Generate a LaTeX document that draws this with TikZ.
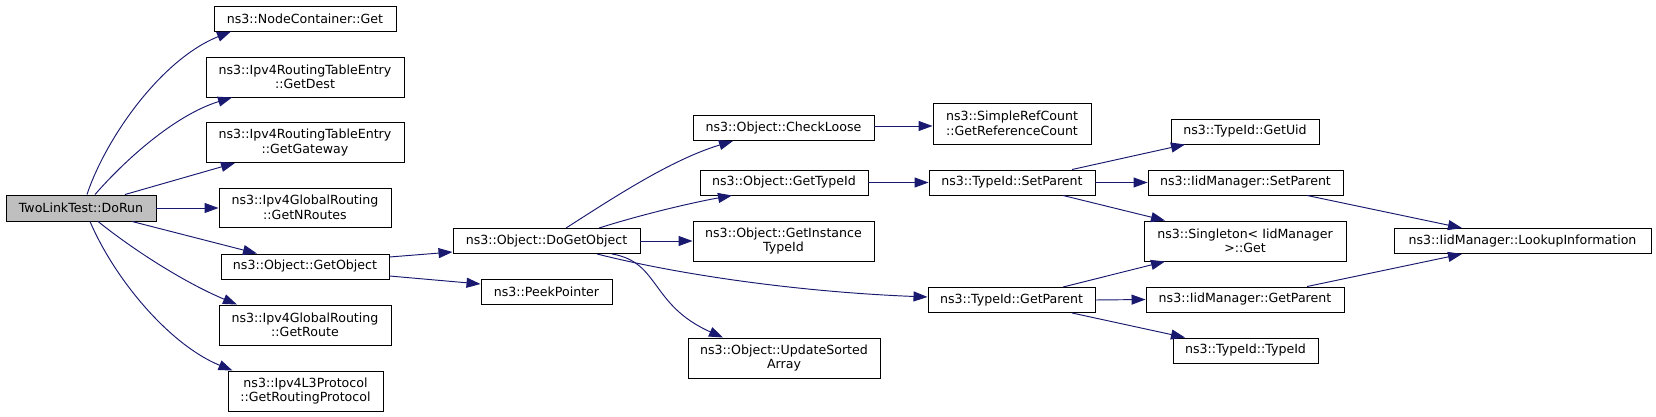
\documentclass[tikz,border=0pt]{standalone}
\usepackage{fontspec}
\setmainfont{DejaVu Sans}
\usetikzlibrary{arrows.meta}
\definecolor{edgecol}{HTML}{191970}
\definecolor{rootfill}{HTML}{BFBFBF}
\tikzset{
  box/.style={draw=black, fill=white, line width=0.95pt, inner sep=0pt, align=center,
    font=\fontsize{12.6}{14.4}\selectfont},
  rootbox/.style={box, fill=rootfill},
  edge/.style={draw=edgecol, line width=0.95pt, -{Triangle[length=14pt,width=10pt]}},
}
\begin{document}
\begin{tikzpicture}[x=1pt,y=-1pt]
\useasboundingbox (0,0) rectangle (1656,417);
% nodes
\node[rootbox, minimum width=150pt, minimum height=26pt] (dorun) at (81,208) {TwoLinkTest::DoRun};
\node[box, minimum width=182pt, minimum height=25pt] (ncget) at (305,18.5) {ns3::NodeContainer::Get};
\node[box, minimum width=198pt, minimum height=40pt] (gdest) at (305,77) {ns3::Ipv4RoutingTableEntry\\::GetDest};
\node[box, minimum width=198pt, minimum height=40pt] (ggate) at (305,142.5) {ns3::Ipv4RoutingTableEntry\\::GetGateway};
\node[box, minimum width=172pt, minimum height=39pt] (gnr) at (305,207.5) {ns3::Ipv4GlobalRouting\\::GetNRoutes};
\node[box, minimum width=168pt, minimum height=25pt] (gobj) at (305,266.5) {ns3::Object::GetObject};
\node[box, minimum width=172pt, minimum height=40pt] (groute) at (305,325) {ns3::Ipv4GlobalRouting\\::GetRoute};
\node[box, minimum width=155pt, minimum height=40pt] (grp) at (305.5,391) {ns3::Ipv4L3Protocol\\::GetRoutingProtocol};
\node[box, minimum width=187pt, minimum height=25pt] (dgo) at (546.5,241) {ns3::Object::DoGetObject};
\node[box, minimum width=131pt, minimum height=25pt] (peek) at (546.5,291.5) {ns3::PeekPointer};
\node[box, minimum width=181pt, minimum height=25pt] (check) at (783.5,128) {ns3::Object::CheckLoose};
\node[box, minimum width=168pt, minimum height=25pt] (gtid) at (784,182.5) {ns3::Object::GetTypeId};
\node[box, minimum width=181pt, minimum height=40pt] (gitid) at (783.5,241) {ns3::Object::GetInstance\\TypeId};
\node[box, minimum width=192pt, minimum height=40pt] (usa) at (784,358) {ns3::Object::UpdateSorted\\Array};
\node[box, minimum width=158pt, minimum height=41pt] (refc) at (1012,123.5) {ns3::SimpleRefCount\\::GetReferenceCount};
\node[box, minimum width=166pt, minimum height=25pt] (tsp) at (1012,182.5) {ns3::TypeId::SetParent};
\node[box, minimum width=167pt, minimum height=25pt] (tgp) at (1011.5,300) {ns3::TypeId::GetParent};
\node[box, minimum width=148pt, minimum height=25pt] (uid) at (1245,131.5) {ns3::TypeId::GetUid};
\node[box, minimum width=195pt, minimum height=25pt] (isp) at (1245.5,182.5) {ns3::IidManager::SetParent};
\node[box, minimum width=202pt, minimum height=40pt] (sget) at (1245,241) {ns3::Singleton< IidManager\\>::Get};
\node[box, minimum width=198pt, minimum height=25pt] (igp) at (1245,299.5) {ns3::IidManager::GetParent};
\node[box, minimum width=145pt, minimum height=25pt] (ttid) at (1245.5,350.5) {ns3::TypeId::TypeId};
\node[box, minimum width=257pt, minimum height=25pt] (look) at (1522.5,241) {ns3::IidManager::LookupInformation};
% edges
\draw[edge] ([xshift=6pt]dorun.north) .. controls (105,140) and (160,60) .. ([xshift=-74pt]ncget.south);
\draw[edge] ([xshift=14pt]dorun.north) .. controls (125,160) and (175,115) .. ([xshift=-73pt]gdest.south);
\draw[edge] ([xshift=44pt]dorun.north) -- ([xshift=-70pt]ggate.south);
\draw[edge] (dorun.east) -- (dorun.east -| gnr.west);
\draw[edge] ([xshift=51pt]dorun.south) -- ([xshift=-48pt]gobj.north);
\draw[edge] ([xshift=17pt]dorun.south) .. controls (140,255) and (190,285) .. ([xshift=-68pt]groute.north);
\draw[edge] ([xshift=9pt]dorun.south) .. controls (115,280) and (170,345) .. ([xshift=-73pt]grp.north);
\draw[edge] ([yshift=9.5pt]gobj.east) -- ([yshift=-11pt]dgo.west);
\draw[edge] ([yshift=-9.5pt]gobj.east) -- ([yshift=7.5pt]peek.west);
\draw[edge] ([xshift=19.5pt]dgo.north) .. controls (610,200) and (670,160) .. ([xshift=-50.5pt]check.south);
\draw[edge] ([xshift=52.5pt]dgo.north) .. controls (640,215) and (690,203) .. ([xshift=-52pt]gtid.south);
\draw[edge] (dgo.east) -- (gitid.west);
\draw[edge] ([xshift=65.5pt]dgo.south) .. controls (660,262) and (650,305) .. ([xshift=-61pt]usa.north);
\draw[edge] ([xshift=50.5pt]dgo.south) .. controls (680,275) and (800,292) .. ([yshift=3pt]tgp.west);
\draw[edge] ([yshift=2pt]check.east) -- ([yshift=-2.5pt]refc.west);
\draw[edge] (gtid.east) -- (tsp.west);
\draw[edge] ([xshift=60pt]tsp.north) -- ([xshift=-60pt]uid.south);
\draw[edge] (tsp.east) -- (isp.west);
\draw[edge] ([xshift=51pt]tsp.south) -- ([xshift=-80pt]sget.north);
\draw[edge] ([xshift=51.5pt]tgp.north) -- ([xshift=-80pt]sget.south);
\draw[edge] (tgp.east) -- (igp.west);
\draw[edge] ([xshift=60.5pt]tgp.south) -- ([xshift=-60.5pt]ttid.north);
\draw[edge] ([xshift=61.5pt]isp.south) -- ([xshift=-60.5pt]look.north);
\draw[edge] ([xshift=62pt]igp.north) -- ([xshift=-60.5pt]look.south);
\end{tikzpicture}
\end{document}
